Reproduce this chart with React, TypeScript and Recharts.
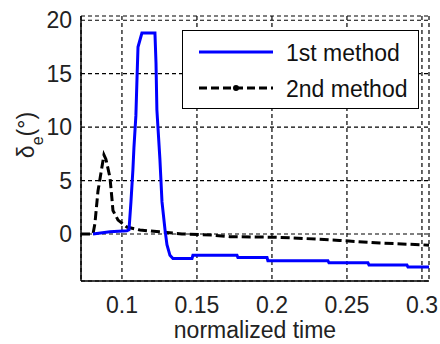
import { LineChart, Line, XAxis, YAxis, CartesianGrid, Legend } from "recharts";

// 1st method (blue, solid)
const firstTime = [
  0.0807, 0.092, 0.1033, 0.1047, 0.106, 0.1073, 0.108, 0.1093, 0.11, 0.1107,
  0.1133, 0.122, 0.1227, 0.1233, 0.1253, 0.1267, 0.1287, 0.13, 0.132, 0.134,
  0.1467, 0.1473, 0.1767, 0.1773, 0.1967, 0.1973, 0.2373, 0.238, 0.264,
  0.2647, 0.29, 0.2907, 0.3047,
];
const firstValue = [
  0, 0.2, 0.3, 0.4, 3, 6, 8.1, 11.1, 14.4, 17.5, 18.8, 18.8, 16, 11.6, 7, 3,
  0.4, -1, -2, -2.3, -2.3, -2.0, -2.0, -2.2, -2.2, -2.5, -2.5, -2.7, -2.7,
  -2.9, -2.9, -3.1, -3.1,
];

// 2nd method (black, dashed)
const secondTime = [
  0.0727, 0.0807, 0.082, 0.084, 0.086, 0.088, 0.0893, 0.092, 0.0934, 0.094,
  0.0974, 0.1033, 0.112, 0.125, 0.14, 0.16, 0.172, 0.2, 0.212, 0.245, 0.272,
  0.2987, 0.3047,
];
const secondValue = [
  0, 0, 1, 4, 5.7, 7.4, 7.0, 5.3, 3.2, 2.2, 1.3, 0.65, 0.37, 0.2, 0, -0.1,
  -0.25, -0.3, -0.35, -0.6, -0.85, -1.0, -1.05,
];

const xTicks = [0.1, 0.15, 0.2, 0.25, 0.3];
const yTicks = [0, 5, 10, 15, 20];
const seriesNames = ["1st method", "2nd method"];

const firstData = firstTime.map((t, i) => ({ t, v: firstValue[i] }));
const secondData = secondTime.map((t, i) => ({ t, v: secondValue[i] }));

const FONT = "'Liberation Sans', Arial, sans-serif";
const tickStyle = { fontSize: 23, fill: "#222", fontFamily: FONT };

function LegendBox() {
  return (
    <div
      style={{
        width: 237,
        height: 79,
        boxSizing: "border-box",
        border: "1.5px solid #000",
        background: "#fff",
      }}
    >
      <svg width={234} height={76} style={{ display: "block" }}>
        <line x1={16} x2={90} y1={21} y2={21} stroke="#0000ff" strokeWidth={3} />
        <line
          x1={16}
          x2={90}
          y1={57}
          y2={57}
          stroke="#000"
          strokeWidth={3}
          strokeDasharray="8 4"
        />
        <circle cx={53} cy={57} r={3} fill="#000" />
        <text x={103} y={22} dominantBaseline="central" fontSize={23} fontFamily={FONT} fill="#111">
          {seriesNames[0]}
        </text>
        <text x={103} y={58} dominantBaseline="central" fontSize={23} fontFamily={FONT} fill="#111">
          {seriesNames[1]}
        </text>
      </svg>
    </div>
  );
}

function YLabel() {
  return (
    <text
      x={34}
      y={135}
      transform="rotate(-90, 34, 135)"
      textAnchor="middle"
      fontSize={23}
      fontFamily={FONT}
      fill="#222"
    >
      δ
      <tspan baselineShift="sub" fontSize={16}>e</tspan>
      <tspan>(°)</tspan>
    </text>
  );
}

export default function App() {
  return (
    <div style={{ position: "absolute", left: 0, top: 0, width: 440, height: 344, background: "#fff" }}>
      <LineChart width={440} height={344} margin={{ top: 16, right: 11, bottom: 0, left: 0 }}>
        <CartesianGrid stroke="#000" strokeDasharray="4 3" strokeWidth={1.2} />
        <XAxis
          type="number"
          dataKey="t"
          domain={[0.0727, 0.3047]}
          ticks={xTicks}
          allowDataOverflow
          height={63}
          tickLine={false}
          tickSize={0}
          tickMargin={16}
          tick={tickStyle}
          axisLine={{ stroke: "#000", strokeWidth: 1.5 }}
          tickFormatter={(v: number) => String(v)}
          label={{
            value: "normalized time",
            position: "insideBottom",
            offset: 6,
            style: { fontSize: 23, fill: "#222", fontFamily: FONT },
          }}
        />
        <XAxis
          xAxisId="top"
          orientation="top"
          type="number"
          domain={[0.0727, 0.3047]}
          height={0}
          tick={false}
          tickLine={false}
          axisLine={{ stroke: "#000", strokeWidth: 1.5 }}
        />
        <YAxis
          type="number"
          domain={[-4.4, 20.4]}
          ticks={yTicks}
          allowDataOverflow
          width={81}
          tickLine={false}
          tickSize={0}
          tickMargin={9}
          tick={tickStyle}
          axisLine={{ stroke: "#000", strokeWidth: 1.5 }}
          label={<YLabel />}
        />
        <YAxis
          yAxisId="right"
          orientation="right"
          type="number"
          domain={[-4.4, 20.4]}
          width={0}
          tick={false}
          tickLine={false}
          axisLine={{ stroke: "#000", strokeWidth: 1.5 }}
        />
        <Legend
          layout="vertical"
          align="center"
          verticalAlign="middle"
          wrapperStyle={{ top: 30, left: 182, width: 237 }}
          content={() => <LegendBox />}
        />
        <Line
          data={secondData}
          dataKey="v"
          name={seriesNames[1]}
          stroke="#000"
          strokeWidth={3}
          strokeDasharray="9 4"
          dot={false}
          type="linear"
          isAnimationActive={false}
        />
        <Line
          data={firstData}
          dataKey="v"
          name={seriesNames[0]}
          stroke="#0000ff"
          strokeWidth={3}
          dot={false}
          type="linear"
          isAnimationActive={false}
        />
      </LineChart>
    </div>
  );
}
